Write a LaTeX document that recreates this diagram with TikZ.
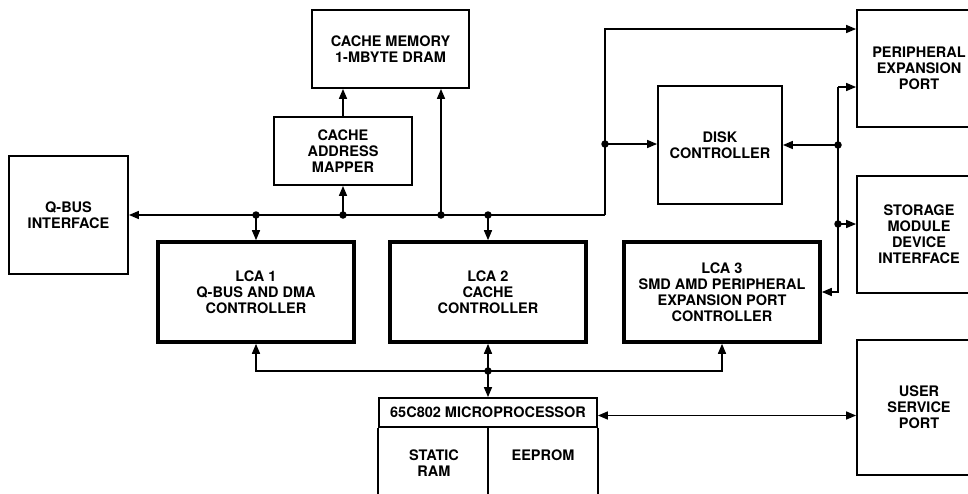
\documentclass[tikz,border=0pt]{standalone}
\usepackage{fontspec}
\setmainfont{TeX Gyre Heros}
\usetikzlibrary{positioning,arrows.meta}

\begin{document}
\begin{tikzpicture}[x=1pt,y=-1pt,
  blk/.style={draw, line width=1.8pt, align=center, inner sep=0pt,
    font=\fontsize{14.5}{16}\selectfont\bfseries},
  lcablk/.style={blk, line width=3.6pt, minimum width=196pt, minimum height=100pt},
  lbl/.style={align=center, inner sep=0pt, font=\fontsize{14.5}{16}\selectfont\bfseries},
  arr/.style={-{Triangle[length=10pt,width=8pt]}},
  dblarr/.style={{Triangle[length=10pt,width=8pt]}-{Triangle[length=10pt,width=8pt]}},
  dot/.style={circle, fill, inner sep=0pt, minimum size=7.5pt},
  line width=1.5pt]
  \useasboundingbox (0,0) rectangle (968,493);

  % memory side
  \node[blk, minimum width=157pt, minimum height=78pt] (cachemem) at (390.5,49)
    {CACHE MEMORY\\1-MBYTE DRAM};
  \node[blk, minimum width=138pt, minimum height=68pt] (mapper) at (343,151)
    {CACHE\\ADDRESS\\MAPPER};
  \node[blk, minimum width=119pt, minimum height=118pt] (qbus) at (68.5,215)
    {Q-BUS\\INTERFACE};

  % the three LCAs
  \node[lcablk] (lca1) at (256,292) {LCA 1\\Q-BUS AND DMA\\CONTROLLER};
  \node[lcablk] (lca2) at (488,292) {LCA 2\\CACHE\\CONTROLLER};
  \node[lcablk] (lca3) at (722,292)
    {LCA 3\\SMD AMD PERIPHERAL\\EXPANSION PORT\\CONTROLLER};

  % disk and the ports on the right
  \node[blk, minimum width=124pt, minimum height=118pt] (disk) at (720,145)
    {DISK\\CONTROLLER};
  \node[blk, minimum width=124pt, minimum height=117pt] (periph) at (919,68.5)
    {PERIPHERAL\\EXPANSION\\PORT};
  \node[blk, minimum width=124pt, minimum height=117pt] (storage) at (919,234.5)
    {STORAGE\\MODULE\\DEVICE\\INTERFACE};
  \node[blk, minimum width=124pt, minimum height=135pt] (user) at (919,407.5)
    {USER\\SERVICE\\PORT};

  % microprocessor
  \node[blk, minimum width=218pt, minimum height=29pt] (mhead) at (488,412.5)
    {65C802 MICROPROCESSOR};
  \draw[line width=1.8pt] (mhead.south west) -- ++(0,80);
  \draw[line width=1.8pt] (mhead.south east) -- ++(0,80);
  \draw[line width=1.8pt] (mhead.south) -- ++(0,80);
  \node[lbl, anchor=north] (sram) at (434,449) {STATIC\\RAM};
  \node[lbl, anchor=north] (eeprom) at (543,449) {EEPROM};

  % bus junctions
  \coordinate (j1) at (256,215);
  \coordinate (j2) at (343,215);
  \coordinate (j3) at (441,215);
  \coordinate (j4) at (488,215);
  \coordinate (bend1) at (605,215);
  \coordinate (bend2) at (605,29);
  \coordinate (j5) at (605,144);
  \coordinate (r1) at (838,87);
  \coordinate (r2) at (838,145);
  \coordinate (r3) at (838,224);
  \coordinate (r4) at (838,292);
  \coordinate (b2) at (488,371);

  % main bus
  \draw[arr] (bend1) -- (qbus.east |- j4);
  \draw[arr] (j1) -- (lca1.north);
  \draw[arr] (j2) -- (mapper.south);
  \draw[arr] (mapper.north) -- (mapper.north |- cachemem.south);
  \draw[arr] (j3) -- (j3 |- cachemem.south);
  \draw[arr] (j4) -- (lca2.north);
  \draw[arr] (bend1) -- (bend2) -- (periph.west |- bend2);
  \draw[arr] (j5) -- (disk.west |- j5);

  % right bus
  \draw (r1) -- (r3);
  \draw[arr] (r1) -- (periph.west |- r1);
  \draw[arr] (r2) -- (disk.east);
  \draw[arr] (r3) -- (storage.west |- r3);
  \draw[arr] (r3) -- (r4) -- (lca3.east);

  % local bus
  \draw[arr] (b2) -| (lca1.south);
  \draw[arr] (b2) -| (lca3.south);
  \draw[arr] (b2) -- (lca2.south);
  \draw[arr] (b2) -- (mhead.north);
  \draw[dblarr] ([yshift=-3pt]mhead.east) -- ([yshift=-3pt]mhead.east -| user.west);

  % dots
  \foreach \p in {j1,j2,j3,j4,j5,r2,r3,b2}
    \node[dot] at (\p) {};
\end{tikzpicture}
\end{document}
